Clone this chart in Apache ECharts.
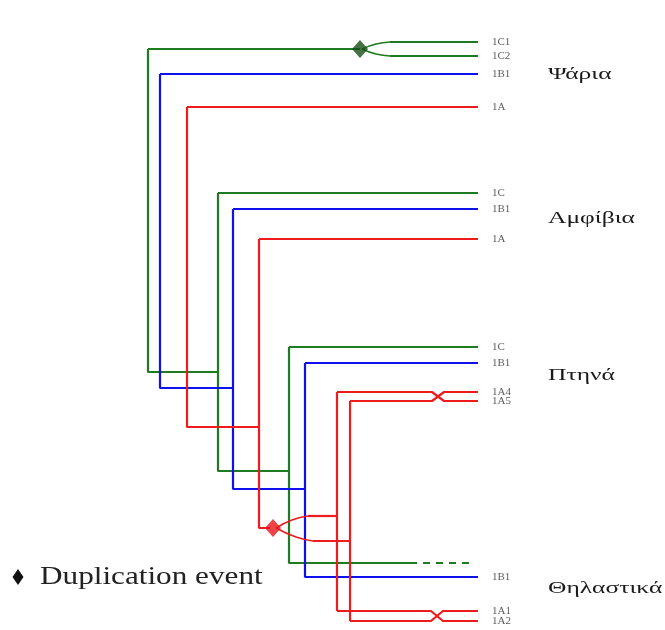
<!DOCTYPE html>
<html><head><meta charset="utf-8">
<script src="https://cdn.jsdelivr.net/npm/echarts@6/dist/echarts.min.js"></script>
<style>html,body{margin:0;padding:0;background:#fff}#c{width:665px;height:630px}</style>
</head><body><div id="c"></div>
<script>
// Leaf (gene) labels and their vertical positions in the tree
const leafLabels = ['1C1','1C2','1B1','1A','1C','1B1','1A','1C','1B1','1A4','1A5','1B1','1A1','1A2'];
const leafY = [42,56,74,107,193,209,239,347,363,392,401,577,611,621];
const leafX = 478;
// Taxon (clade) names and their vertical positions
const cladeNames = ['Ψάρια','Αμφίβια','Πτηνά','Θηλαστικά'];
const cladeY = [75,219,376,589];
const cladeX = 548;
// Legend text
const legendText = 'Duplication event';
// Gene-family branches (tree node positions: [depth, position])
const green1C = [
  [[148,49],[148,372],[218,372]],
  [[148,49],[360,49]],
  [[218,193],[218,471],[289,471]],
  [[218,193],[478,193]],
  [[289,347],[289,563],[410,563]],
  [[289,347],[478,347]],
  [[390,42],[478,42]],
  [[390,56],[478,56]]
];
const green1CDashed = [[[410,563],[472,563]]];
const green1CCurves = [
  [[362,49],[376,44],[390,42]],
  [[362,49],[376,54],[390,56]]
];
const blue1B1 = [
  [[160,74],[160,388],[233,388]],
  [[160,74],[478,74]],
  [[233,209],[233,489],[305,489]],
  [[233,209],[478,209]],
  [[305,363],[305,577],[478,577]],
  [[305,363],[478,363]]
];
const red1A = [
  [[187,107],[187,427],[259,427]],
  [[187,107],[478,107]],
  [[259,239],[259,528],[270,528]],
  [[259,239],[478,239]],
  [[308,516],[337,516]],
  [[313,541],[350,541]],
  [[337,392],[337,611]],
  [[350,401],[350,621]],
  [[337,392],[432,392],[444,401],[478,401]],
  [[350,401],[432,401],[444,392],[478,392]],
  [[337,611],[431,611],[443,621],[478,621]],
  [[350,621],[431,621],[443,611],[478,611]]
];
const red1ACurves = [
  [[276,528],[292,520],[308,516]],
  [[276,528],[296,537],[313,541]]
];
// Duplication events: [position, node, colour key]
const dupEvents = [[360,49,'g'],[273,528,'r']];

const COL = {g:'#1e7b22', b:'#1010ee', r:'#ee1c1c'};
const series = [];
function addPaths(paths, color, width, opts) {
  paths.forEach(p => series.push(Object.assign({
    type:'line', data:p, symbol:'none', silent:true,
    lineStyle:{color:color, width:width}, z:2, animation:false
  }, opts||{})));
}
addPaths(green1C, COL.g, 2.2);
addPaths(green1CDashed, COL.g, 2.2, {lineStyle:{color:COL.g,width:2.2,type:[7,6]}});
addPaths(green1CCurves, COL.g, 1.6, {smooth:0.5});
addPaths(blue1B1, COL.b, 2.2);
addPaths(red1A, COL.r, 2.2);
addPaths(red1ACurves, COL.r, 1.6, {smooth:0.5});

series.push({
  name:legendText, type:'scatter', symbol:'diamond', symbolSize:[16,18],
  data: dupEvents.map(d => ({value:[d[0],d[1]], itemStyle:{color: d[2]==='g' ? '#174d17' : '#e8141c'}})),
  z:5, animation:false
});
series.push({
  type:'scatter', symbolSize:0, silent:true, animation:false,
  data: leafY.map((y,i) => ({value:[leafX,y], label:{show:true, formatter:leafLabels[i]}})),
  label:{position:'right', distance:14, color:'#333', fontFamily:'Liberation Serif', fontSize:11}
});

const chart = echarts.init(document.getElementById('c'), null, {renderer:'canvas'});
chart.setOption({
  animation:false,
  backgroundColor:'#fff',
  grid:{left:0,right:0,top:0,bottom:0},
  xAxis:{type:'value',min:0,max:665,show:false},
  yAxis:{type:'value',min:0,max:630,inverse:true,show:false},
  series: series
});
// Clade names and legend (horizontally stretched serif text)
const g = cladeNames.map((t,i) => {
  const p = chart.convertToPixel({gridIndex:0}, [cladeX, cladeY[i]]);
  return {type:'text', x:p[0], y:p[1], scaleX:1.5, silent:true,
    style:{text:t, fill:'#1a1a1a', font:'17px "Liberation Serif"', verticalAlign:'middle', align:'left'}};
});
g.push({type:'polygon', silent:true, shape:{points:[[18,569],[23.5,577],[18,585],[12.5,577]]}, style:{fill:'#111'}});
g.push({type:'text', x:40, y:577, scaleX:1.2, silent:true,
  style:{text:legendText, fill:'#222', font:'26px "Liberation Serif"', verticalAlign:'middle', align:'left'}});
chart.setOption({graphic: g});
</script>
</body></html>
